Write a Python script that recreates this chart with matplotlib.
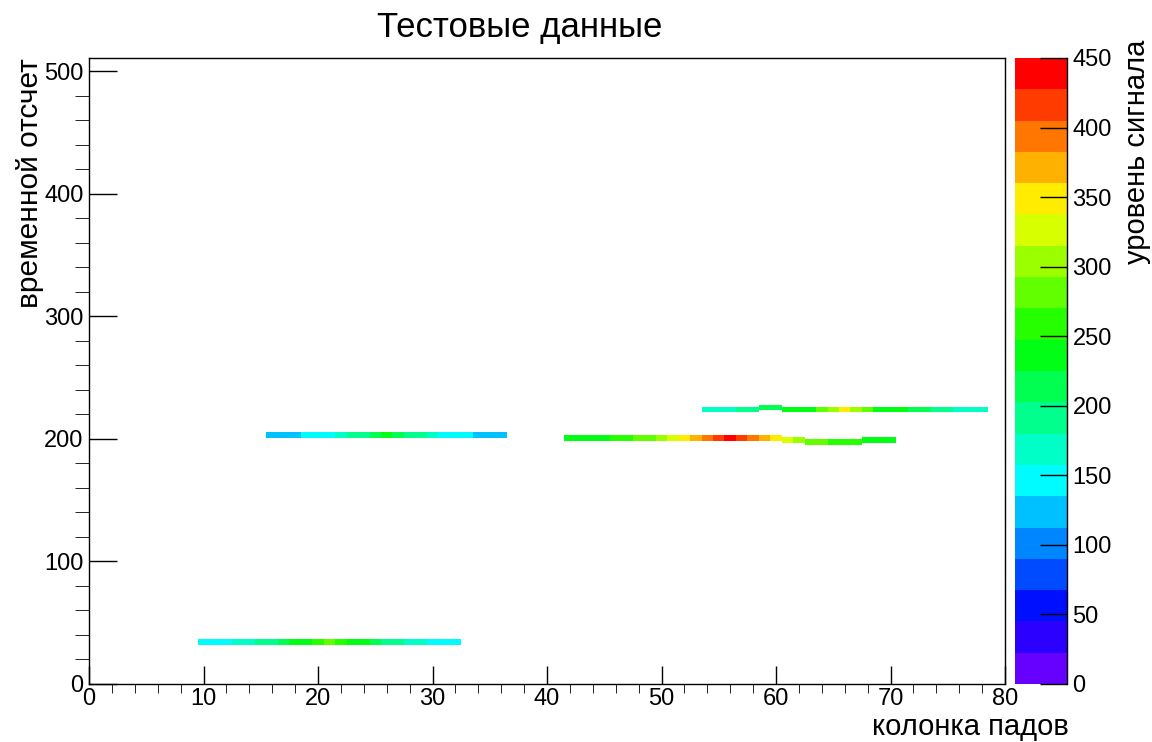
import colorsys
import matplotlib
matplotlib.use("Agg")
import matplotlib.pyplot as plt
import numpy as np
from matplotlib.colors import ListedColormap, BoundaryNorm

plt.rcParams['font.family'] = ['Liberation Sans', 'DejaVu Sans']

# Dati: tracce (primo pad, valori per pad, riga inferiore per pad)
track1_pad0 = 16
track1_vals = [125, 125, 125, 145, 145, 145, 170, 190, 190, 215, 235,
               215, 190, 190, 170, 145, 145, 145, 125, 125, 125]
track1_rows = [201] * 21

track2_pad0 = 10
track2_vals = [145, 145, 145, 170, 170, 190, 190, 215, 240, 240, 255, 280,
               250, 240, 240, 215, 190, 190, 170, 170, 145, 145, 145]
track2_rows = [32] * 23

track3_pad0 = 42
track3_vals = [235, 235, 235, 235, 255, 255, 280, 280, 300, 325, 345, 370,
               390, 415, 440, 415, 390, 370, 345, 325, 300, 280, 280,
               255, 255, 255, 235, 235, 235]
track3_rows = [198] * 19 + [197, 197] + [195] * 5 + [197] * 3

track4_pad0 = 54
track4_vals = [170, 170, 170, 190, 190, 215, 215, 235, 235, 235, 275, 300,
               345, 300, 275, 235, 235, 235, 215, 215, 190, 190, 170, 170, 170]
track4_rows = [222] * 5 + [224, 224] + [222] * 18

track_height = [5, 5, 5, 4]

n_pads = 80
n_time = 512
z_levels = np.linspace(0, 450, 21)

# Griglia dell'istogramma
z = np.full((n_time, n_pads), np.nan)
tracks = [(track1_pad0, track1_vals, track1_rows),
          (track2_pad0, track2_vals, track2_rows),
          (track3_pad0, track3_vals, track3_rows),
          (track4_pad0, track4_vals, track4_rows)]
for (pad0, vals, rows), h in zip(tracks, track_height):
    for i, (v, r) in enumerate(zip(vals, rows)):
        z[r:r + h, pad0 + i] = v

# Palette a 20 livelli (viola -> rosso)
hues = np.linspace(264, 0, 20) / 360.0
colors = [colorsys.hsv_to_rgb(h, 1.0, 1.0) for h in hues]
cmap = ListedColormap(colors)
norm = BoundaryNorm(z_levels, cmap.N)

W, H = 1152, 742
fig = plt.figure(figsize=(W / 100, H / 100), dpi=100)
ax = fig.add_axes([89 / W, 1 - 684 / H, (1005 - 89) / W, (684 - 58) / H])

x_edges = np.arange(n_pads + 1) - 0.5
y_edges = np.arange(n_time + 1)
mesh = ax.pcolormesh(x_edges, y_edges, np.ma.masked_invalid(z), cmap=cmap, norm=norm)

ax.set_xlim(0, 80)
ax.set_ylim(0, 511)
ax.set_xticks(np.arange(0, 81, 10))
ax.set_xticks(np.arange(0, 81, 2), minor=True)
ax.set_yticks(np.arange(0, 501, 100))
ax.set_yticks(np.arange(0, 511, 20), minor=True)
ax.tick_params(axis='both', direction='in', labelsize=17, width=1, colors='black')
ax.tick_params(axis='x', which='major', length=13, pad=3, top=False)
ax.tick_params(axis='x', which='minor', length=6.5, top=False)
ax.tick_params(axis='y', which='major', length=20, pad=4, right=False)
ax.tick_params(axis='y', which='minor', length=10, right=False)
for sp in ax.spines.values():
    sp.set_linewidth(1)
    sp.set_color('black')

ax.set_xlabel('колонка падов', fontsize=21, loc='right')
ax.xaxis.set_label_coords(1.07, -0.047)
ax.xaxis.label.set_ha('right')
ax.set_ylabel('временной отсчет', fontsize=21.5, loc='top')
ax.yaxis.set_label_coords(-0.049, 1.0)

fig.text(520 / W, 1 - 28 / H, 'Тестовые данные', fontsize=25, ha='center', va='center')

# Barra dei colori
cax = fig.add_axes([1015 / W, 1 - 684 / H, (1067 - 1015) / W, (684 - 58) / H])
cb = fig.colorbar(mesh, cax=cax, ticks=np.arange(0, 451, 50))
cb.outline.set_visible(False)
cax.minorticks_off()
cax.spines['right'].set_visible(True)
cax.spines['right'].set_color('black')
cax.spines['right'].set_linewidth(1)
cax.tick_params(axis='y', direction='in', length=19.5, width=1, labelsize=17, pad=4)
cax.set_ylabel('уровень сигнала', fontsize=21, loc='top')
cax.yaxis.set_label_coords(2.08, 1.029)

fig.savefig('out.png', dpi=100)
